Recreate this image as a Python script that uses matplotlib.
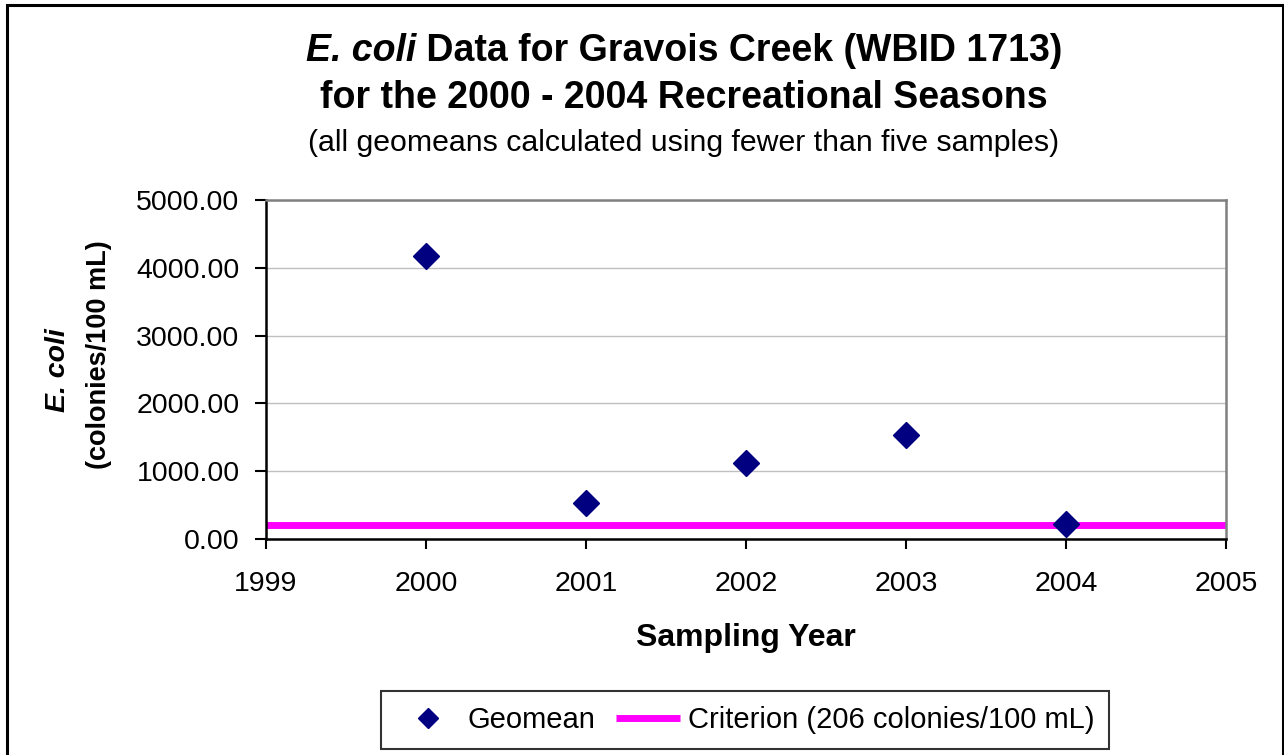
import matplotlib.pyplot as plt
import matplotlib.patches as patches
from matplotlib.ticker import FormatStrFormatter

# geomean E. coli values per recreational season (colonies/100 mL)
years = [2000, 2001, 2002, 2003, 2004]
geomean = [4170, 525, 1115, 1530, 215]
criterion = 206
x_limits = [1999, 2005]
y_ticks = [0, 1000, 2000, 3000, 4000, 5000]

plt.rcParams['font.family'] = ['Liberation Sans', 'DejaVu Sans']


def main():
    fig = plt.figure(figsize=(12.84, 7.55), dpi=100)
    W, H = 1284, 755
    ax = fig.add_axes([266 / W, 1 - 539 / H, 960 / W, 339 / H])

    ax.plot(years, geomean, linestyle='none', marker='D', ms=13,
            color='#000080', mec='#000080', label='Geomean', zorder=3)
    ax.plot(x_limits, [criterion, criterion], color='#FF00FF', lw=5,
            solid_capstyle='butt', label='Criterion (206 colonies/100 mL)', zorder=2)

    ax.set_xlim(x_limits)
    ax.set_ylim(0, 5000)
    ax.set_yticks(y_ticks)
    ax.set_xticks(range(x_limits[0], x_limits[1] + 1))
    ax.yaxis.set_major_formatter(FormatStrFormatter('%.2f'))
    ax.grid(axis='y', color='#c0c0c0', lw=1)
    ax.set_axisbelow(True)

    for side in ['left', 'bottom']:
        ax.spines[side].set_color('black')
        ax.spines[side].set_linewidth(1.8)
    for side in ['top', 'right']:
        ax.spines[side].set_color('#808080')
        ax.spines[side].set_linewidth(1.8)
    ax.tick_params(axis='y', direction='out', length=8, width=1.5, pad=11, labelsize=20.5)
    ax.tick_params(axis='x', direction='out', length=7, width=1.5, pad=16, labelsize=20.5)

    ax.set_xlabel('Sampling Year', fontsize=23, fontweight='bold', labelpad=19)

    # y label in two lines, first one italic
    fig.text(58 / W, 1 - 370 / H, 'E. coli', rotation=90, fontsize=20.5,
             fontweight='bold', fontstyle='italic', ha='center', va='center')
    fig.text(99 / W, 1 - 355 / H, '(colonies/100 mL)', rotation=90, fontsize=19.5,
             fontweight='bold', ha='center', va='center')

    # title, first line has mixed italic / bold text
    renderer = fig.canvas.get_renderer()
    cx, ty = 684 / W, 1 - 51 / H
    t1 = fig.text(0, ty, 'E. coli', fontsize=27, fontweight='bold',
                  fontstyle='italic', ha='left', va='center')
    t2 = fig.text(0, ty, ' Data for Gravois Creek (WBID 1713)', fontsize=27,
                  fontweight='bold', ha='left', va='center')
    w1 = t1.get_window_extent(renderer).width / W
    w2 = t2.get_window_extent(renderer).width / W
    x0 = cx - (w1 + w2) / 2
    t1.set_x(x0)
    t2.set_x(x0 + w1)
    fig.text(cx, 1 - 98 / H, 'for the 2000 - 2004 Recreational Seasons', fontsize=27,
             fontweight='bold', ha='center', va='center')
    fig.text(cx, 1 - 143 / H, '(all geomeans calculated using fewer than five samples)',
             fontsize=21.8, ha='center', va='center')

    leg = fig.legend(loc='center', bbox_to_anchor=(745 / W, 1 - 720 / H), ncol=2,
                     fontsize=21, frameon=True, fancybox=False, edgecolor='black',
                     markerscale=0.8, handlelength=2.2, handletextpad=0.27,
                     columnspacing=0.7, borderpad=0.5, borderaxespad=0)
    leg.get_frame().set_linewidth(1.5)

    # outer chart border
    fig.patches.append(patches.Rectangle((7 / W, -0.02), 1276 / W, 1 - 5 / H + 0.02,
                                         transform=fig.transFigure, fill=False,
                                         ec='black', lw=2.2))

    fig.savefig('out.png', dpi=100)
    return


if __name__ == '__main__':
    main()
